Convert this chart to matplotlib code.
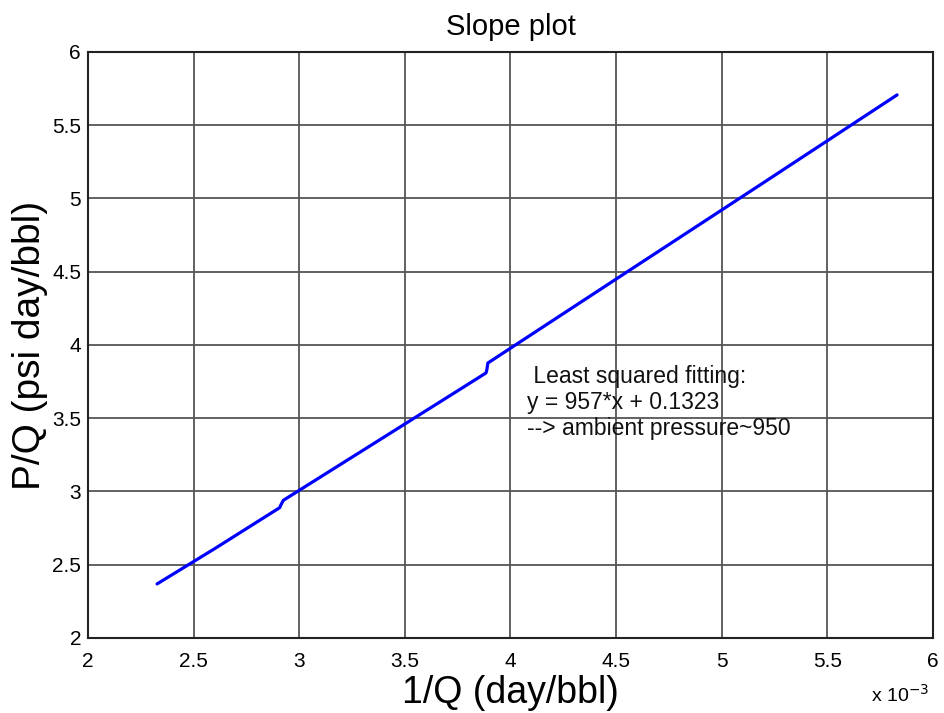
import matplotlib
matplotlib.use("Agg")
import matplotlib.pyplot as plt

plt.rcParams['font.family'] = ['Liberation Sans', 'DejaVu Sans']

# 1/Q in units of 1e-3 day/bbl, P/Q in psi day/bbl, three pieces with small steps
inv_q_1 = [2.327, 2.60, 2.908]
pq_1 = [2.369, 2.61, 2.890]
inv_q_2 = [2.912, 2.925, 3.40, 3.884]
pq_2 = [2.905, 2.940, 3.370, 3.809]
inv_q_3 = [3.888, 3.893, 4.50, 5.20, 5.830]
pq_3 = [3.830, 3.877, 4.450, 5.110, 5.707]

inv_q = inv_q_1 + inv_q_2 + inv_q_3
pq = pq_1 + pq_2 + pq_3

x_ticks = [2, 2.5, 3, 3.5, 4, 4.5, 5, 5.5, 6]
y_ticks = [2, 2.5, 3, 3.5, 4, 4.5, 5, 5.5, 6]

fig = plt.figure(figsize=(9.45, 7.13), dpi=100)
ax = fig.add_axes([0.0931, 0.1052, 0.8942, 0.8219])

ax.plot(inv_q, pq, color='#0000ff', linewidth=2.3, solid_capstyle='round', zorder=3)

ax.set_xlim(2, 6)
ax.set_ylim(2, 6)
ax.set_xticks(x_ticks)
ax.set_yticks(y_ticks)
ax.set_xticklabels([f'{v:g}' for v in x_ticks])
ax.set_yticklabels([f'{v:g}' for v in y_ticks])
ax.tick_params(length=0, labelsize=15)
ax.tick_params(axis='x', pad=10)
ax.tick_params(axis='y', pad=5)
ax.grid(True, color='#555555', linewidth=1.3)
for s in ax.spines.values():
    s.set_color('#222222')
    s.set_linewidth(1.5)

ax.set_title('Slope plot', fontsize=21, pad=12)
ax.set_xlabel('1/Q (day/bbl)', fontsize=27, labelpad=3)
ax.set_ylabel('P/Q (psi day/bbl)', fontsize=28, labelpad=3)

fig.text(0.922, 0.026, r'x 10$^{-3}$', fontsize=14, ha='left', va='center')

ax.text(4.08, 3.86, ' Least squared fitting:\ny = 957*x + 0.1323\n--> ambient pressure~950',
        fontsize=16.5, va='top', ha='left', linespacing=1.15, color='#111111')

fig.savefig('out.png', dpi=100)
